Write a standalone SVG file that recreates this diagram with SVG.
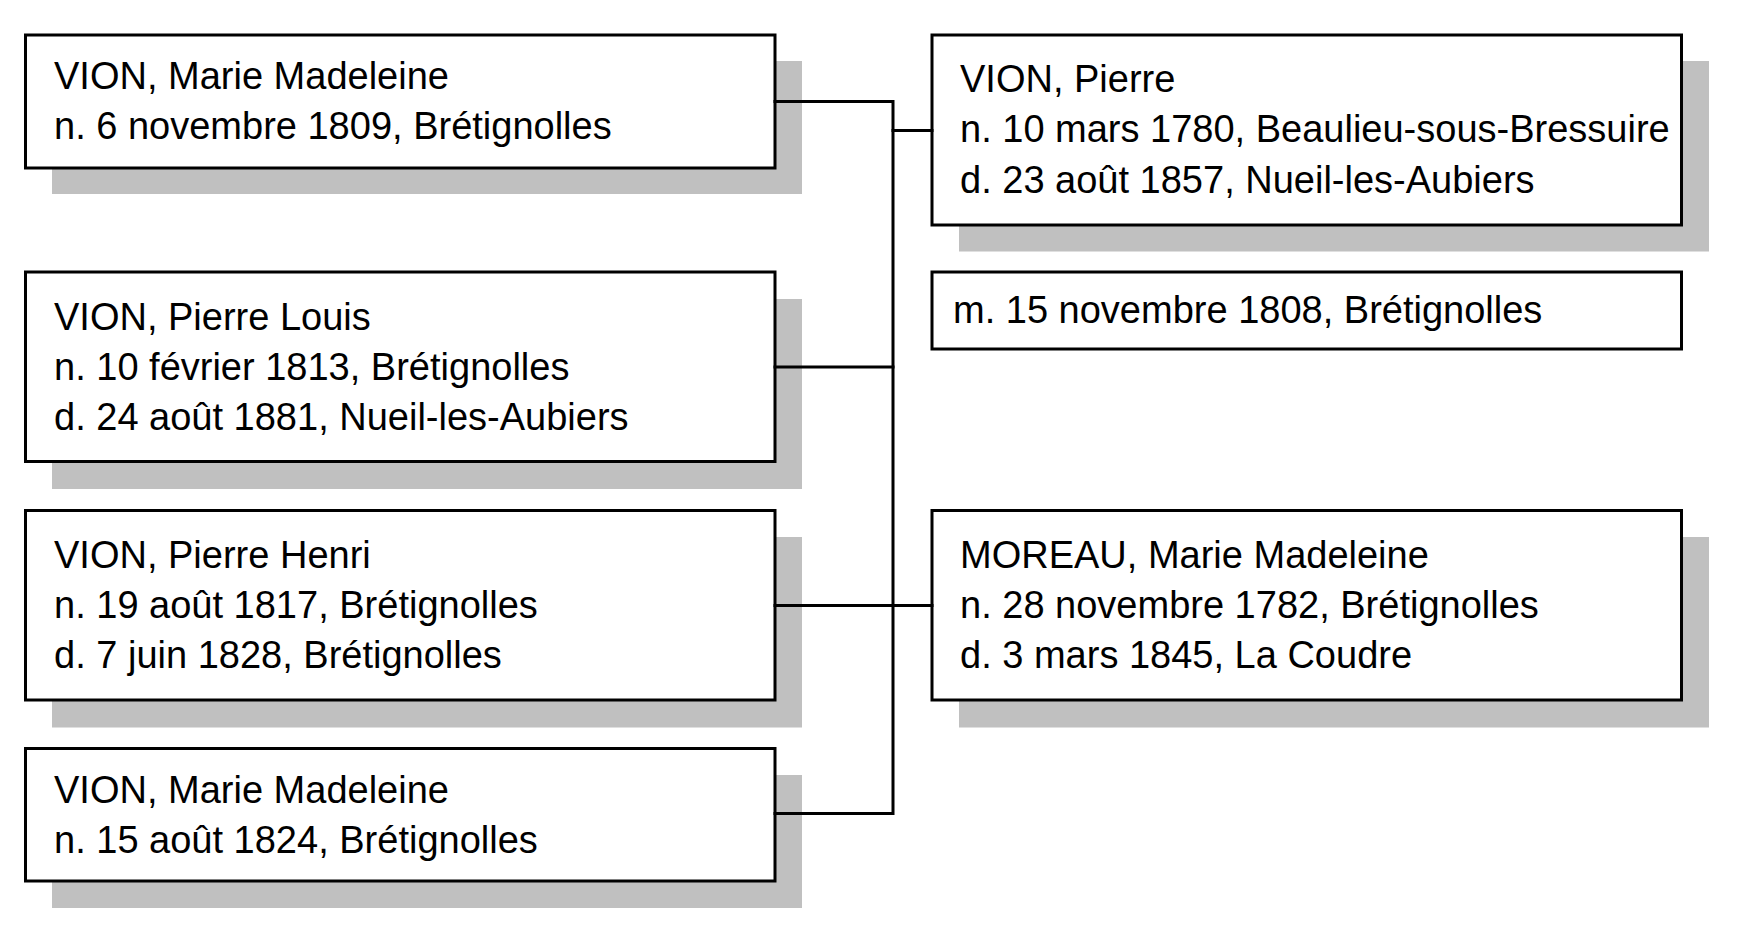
<svg xmlns="http://www.w3.org/2000/svg" width="1757" height="937" viewBox="0 0 1757 937">
  <style>
    .shadow { fill: #c0c0c0; stroke: none; }
    .box { fill: #ffffff; stroke: #000000; stroke-width: 3; }
    .txt { font-family: "Liberation Sans", Arial, sans-serif; font-size: 38px; fill: #000000; }
    .link { fill: none; stroke: #000000; stroke-width: 3; stroke-linecap: square; }
  </style>
  <rect width="1757" height="937" fill="#ffffff"/>

  <!-- children column -->
  <g id="child-marie-madeleine-1809">
    <rect class="shadow" x="52" y="61" width="750" height="133"/>
    <rect class="box" x="25.5" y="35" width="749.5" height="133"/>
    <text class="txt" x="54" y="89">VION, Marie Madeleine</text>
    <text class="txt" x="54" y="139">n. 6 novembre 1809, Brétignolles</text>
  </g>

  <g id="child-pierre-louis">
    <rect class="shadow" x="52" y="299" width="750" height="190"/>
    <rect class="box" x="25.5" y="272" width="749.5" height="189.5"/>
    <text class="txt" x="54" y="329.5">VION, Pierre Louis</text>
    <text class="txt" x="54" y="379.5">n. 10 février 1813, Brétignolles</text>
    <text class="txt" x="54" y="429.5">d. 24 août 1881, Nueil-les-Aubiers</text>
  </g>

  <g id="child-pierre-henri">
    <rect class="shadow" x="52" y="537" width="750" height="190.5"/>
    <rect class="box" x="25.5" y="510.5" width="749.5" height="189.5"/>
    <text class="txt" x="54" y="568">VION, Pierre Henri</text>
    <text class="txt" x="54" y="618">n. 19 août 1817, Brétignolles</text>
    <text class="txt" x="54" y="668">d. 7 juin 1828, Brétignolles</text>
  </g>

  <g id="child-marie-madeleine-1824">
    <rect class="shadow" x="52" y="775" width="750" height="133"/>
    <rect class="box" x="25.5" y="748.5" width="749.5" height="132.5"/>
    <text class="txt" x="54" y="803">VION, Marie Madeleine</text>
    <text class="txt" x="54" y="853">n. 15 août 1824, Brétignolles</text>
  </g>

  <!-- parents column -->
  <g id="father-pierre">
    <rect class="shadow" x="959" y="61" width="750" height="190.5"/>
    <rect class="box" x="932" y="35" width="749.5" height="190"/>
    <text class="txt" x="960" y="91.5">VION, Pierre</text>
    <text class="txt" x="960" y="142">n. 10 mars 1780, Beaulieu-sous-Bressuire</text>
    <text class="txt" x="960" y="192.5">d. 23 août 1857, Nueil-les-Aubiers</text>
  </g>

  <g id="marriage">
    <rect class="box" x="932" y="272" width="749.5" height="77"/>
    <text class="txt" x="953" y="322.5">m. 15 novembre 1808, Brétignolles</text>
  </g>

  <g id="mother-moreau">
    <rect class="shadow" x="959" y="537" width="750" height="190.5"/>
    <rect class="box" x="932" y="510.5" width="749.5" height="189.5"/>
    <text class="txt" x="960" y="568">MOREAU, Marie Madeleine</text>
    <text class="txt" x="960" y="618">n. 28 novembre 1782, Brétignolles</text>
    <text class="txt" x="960" y="668">d. 3 mars 1845, La Coudre</text>
  </g>

  <!-- family connectors -->
  <g id="connectors">
    <path class="link" d="M775 101.5 H893 V813.5 H775"/>
    <path class="link" d="M775 367 H893"/>
    <path class="link" d="M775 605.5 H932"/>
    <path class="link" d="M893 130.5 H932"/>
  </g>
</svg>
